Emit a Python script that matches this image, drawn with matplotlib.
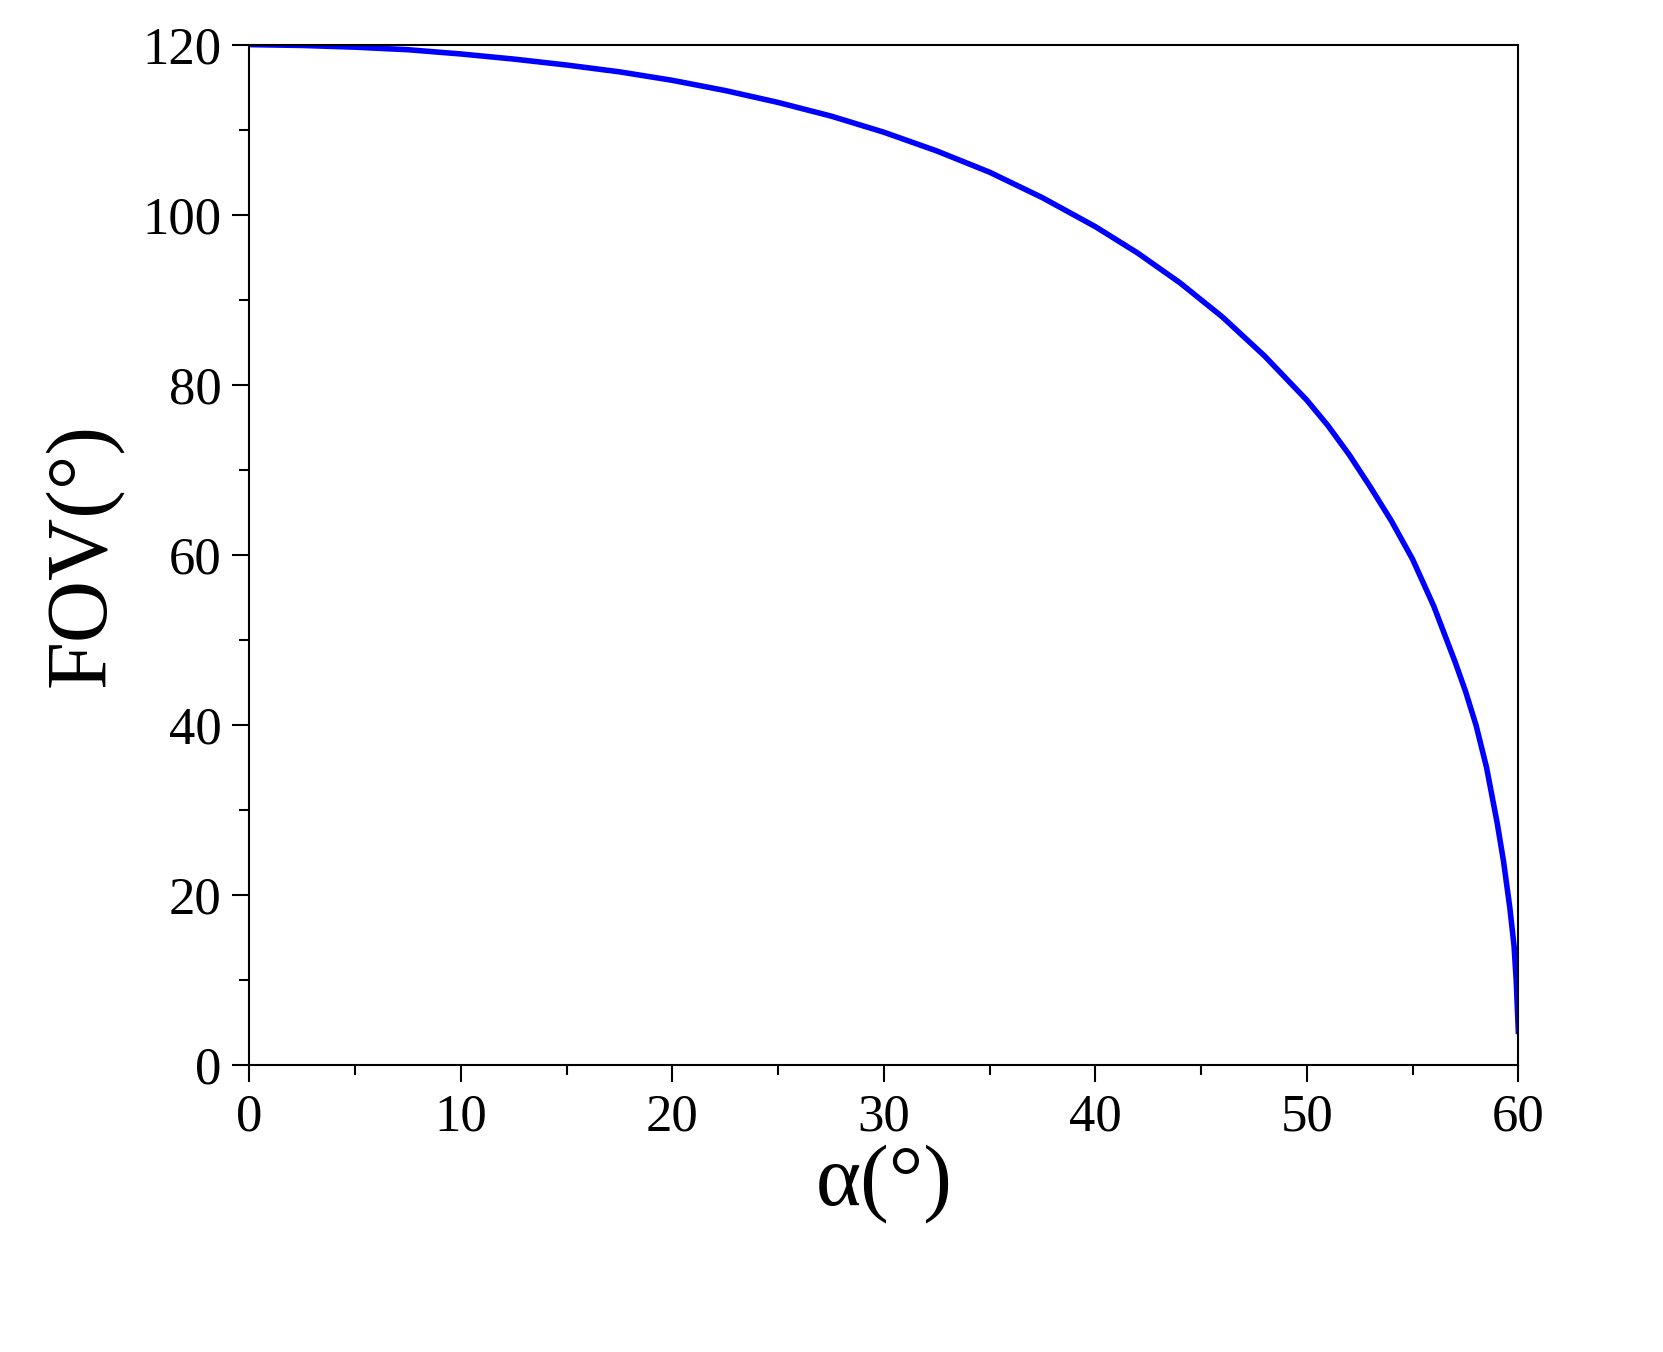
import matplotlib.pyplot as plt
from matplotlib.ticker import MultipleLocator

# values
alpha = [0, 2.5, 5, 7.5, 10, 12.5, 15, 17.5, 20, 22.5, 25, 27.5, 30, 32.5, 35, 37.5, 40, 42, 44, 46, 48, 50,
         51, 52, 53, 54, 55, 56, 57, 57.5, 58, 58.5, 59, 59.3, 59.6, 59.8, 59.9, 60]
fov = [120, 119.9, 119.7, 119.4, 118.9, 118.3, 117.6, 116.8, 115.8, 114.6, 113.2, 111.6, 109.7, 107.5, 105.0, 102.0, 98.6,
       95.5, 92.0, 88.0, 83.4, 78.2, 75.2, 71.8, 68.0, 64.0, 59.5, 54.0, 47.5, 44.0, 40.0, 35.0, 28.5, 24.0, 18.5, 14.0, 10.0, 4.0]

plt.rcParams['font.family'] = ['Liberation Serif', 'DejaVu Serif']

fig = plt.figure(figsize=(16.63, 13.52), dpi=100)
ax = fig.add_axes([0.150, 0.212, 0.763, 0.755])
ax.plot(alpha, fov, color='#0000ff', lw=4)

ax.set_xlim(0, 60)
ax.set_ylim(0, 120)
ax.xaxis.set_major_locator(MultipleLocator(10))
ax.xaxis.set_minor_locator(MultipleLocator(5))
ax.yaxis.set_major_locator(MultipleLocator(20))
ax.yaxis.set_minor_locator(MultipleLocator(10))
ax.tick_params(which='major', direction='out', length=12, width=1.5, labelsize=38, pad=8)
ax.tick_params(which='minor', direction='out', length=7, width=1.5)
for s in ax.spines.values():
    s.set_linewidth(1.5)

ax.set_xlabel('α(°)', fontsize=62, labelpad=2)
ax.set_ylabel('FOV(°)', fontsize=62, labelpad=14)

fig.savefig('out.png')
